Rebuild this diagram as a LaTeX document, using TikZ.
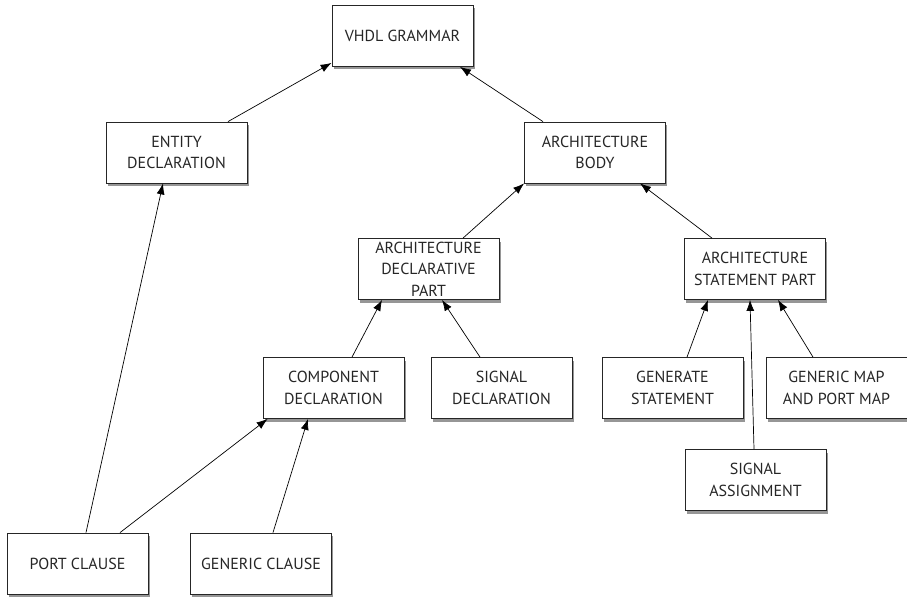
\documentclass[tikz,border=0pt]{standalone}
\usepackage{fontspec}
\setmainfont{PT Sans}
\usetikzlibrary{arrows.meta,shadows}
\begin{document}
\begin{tikzpicture}[x=1pt,y=-1pt,
  box/.style={draw=black!85,line width=0.8pt,fill=white,minimum width=141pt,minimum height=61pt,
    align=center,font=\fontsize{16}{21.5}\selectfont,text=black!85,inner sep=0pt,
    drop shadow={shadow xshift=1.5pt,shadow yshift=-3pt,opacity=0.55,fill=black!75}},
  link/.style={line width=0.7pt,-{Latex[length=11pt,width=8pt]}}]
\useasboundingbox[fill=white] (0,0) rectangle (907,599);
\node[box] (vhdl) at (402.5,36) {VHDL GRAMMAR};
\node[box] (entity) at (176.5,152.5) {ENTITY\\DECLARATION};
\node[box] (body) at (595,152.5) {ARCHITECTURE\\BODY};
\node[box] (decl) at (428.5,269) {ARCHITECTURE\\DECLARATIVE\\PART};
\node[box] (stmt) at (755,269) {ARCHITECTURE\\STATEMENT PART};
\node[box] (comp) at (333.5,388) {COMPONENT\\DECLARATION};
\node[box] (sigdecl) at (501.5,388) {SIGNAL\\DECLARATION};
\node[box] (gen) at (672.5,388) {GENERATE\\STATEMENT};
\node[box] (gmap) at (836.5,388) {GENERIC MAP\\AND PORT MAP};
\node[box] (sigassign) at (755.5,480) {SIGNAL\\ASSIGNMENT};
\node[box] (port) at (77.5,563.5) {PORT CLAUSE};
\node[box] (gclause) at (261,563.5) {GENERIC CLAUSE};
\draw[link] ([xshift=51.5pt]entity.north) -- ([yshift=4pt]vhdl.south west);
\draw[link] ([xshift=-52pt]body.north) -- ([xshift=57.5pt]vhdl.south);
\draw[link] ([xshift=34.5pt]decl.north) -- (body.south west);
\draw[link] ([xshift=-43pt]stmt.north) -- ([xshift=45pt]body.south);
\draw[link] ([xshift=18.5pt]comp.north) -- ([xshift=-46.5pt]decl.south);
\draw[link] ([xshift=-21.5pt]sigdecl.north) -- ([xshift=13.5pt]decl.south);
\draw[link] ([xshift=14.5pt]gen.north) -- ([xshift=-47pt]stmt.south);
\draw[link] ([xshift=-1.5pt]sigassign.north) -- ([xshift=-5pt]stmt.south);
\draw[link] ([xshift=-23.5pt]gmap.north) -- ([xshift=23pt]stmt.south);
\draw[link] ([xshift=8.5pt]port.north) -- ([xshift=-13.5pt]entity.south);
\draw[link] ([xshift=42.5pt]port.north) -- ([xshift=5pt]comp.south west);
\draw[link] ([xshift=12pt]gclause.north) -- ([xshift=-25.5pt]comp.south);
\end{tikzpicture}
\end{document}
